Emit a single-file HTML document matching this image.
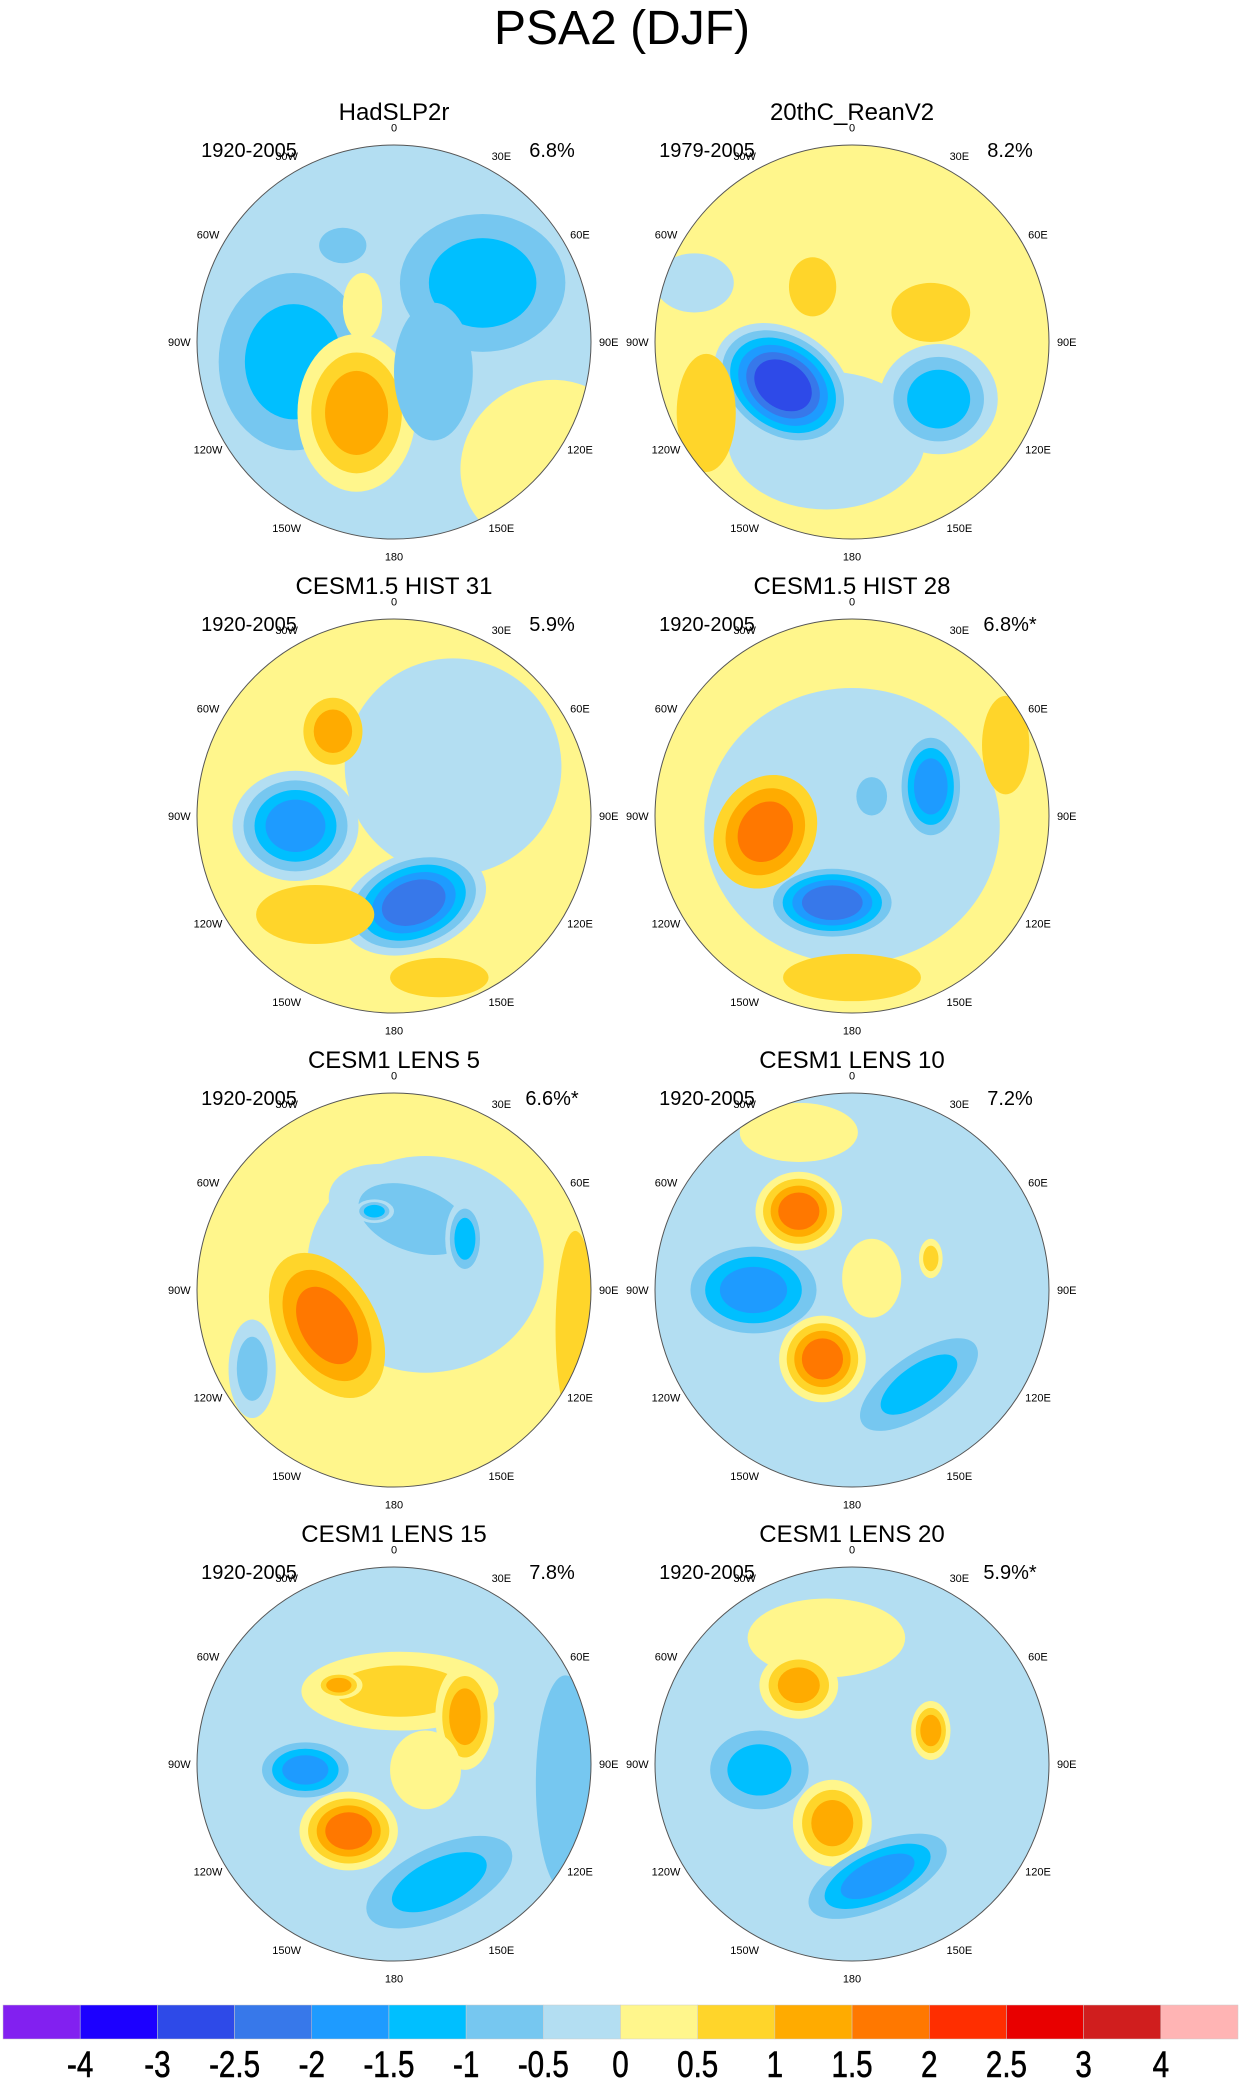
<!DOCTYPE html>
<html><head><meta charset="utf-8">
<style>
html,body{margin:0;padding:0;background:#fff;}
svg{display:block;font-family:"Liberation Sans",sans-serif;}
</style></head>
<body>
<svg id="fig" width="1244" height="2086" viewBox="0 0 1244 2086" xmlns="http://www.w3.org/2000/svg">
<text x="622" y="44" font-size="48" text-anchor="middle">PSA2 (DJF)</text>
</svg>
<script>
// Colour levels (index -> colour); negative and positive anomaly bins
const levelColors = {
  "-7":"#1c00ff","-6":"#2e4ae8","-5":"#3778ea","-4":"#1e9bff","-3":"#00bfff","-2":"#76c7f0","-1":"#b3def2",
  "1":"#fff68c","2":"#ffd52a","3":"#ffab00","4":"#ff7800","5":"#ff2e00","6":"#e80000","7":"#d01e1e"
};
const barColors = ["#8220f0","#1c00ff","#2e4ae8","#3778ea","#1e9bff","#00bfff","#76c7f0","#b3def2","#fff68c","#ffd52a","#ffab00","#ff7800","#ff2e00","#e80000","#d01e1e","#ffb4b4"];
const barLabels = ["-4","-3","-2.5","-2","-1.5","-1","-0.5","0","0.5","1","1.5","2","2.5","3","4"];
const panelTitles = ["HadSLP2r","20thC_ReanV2","CESM1.5 HIST 31","CESM1.5 HIST 28","CESM1 LENS 5","CESM1 LENS 10","CESM1 LENS 15","CESM1 LENS 20"];
const panelYears = ["1920-2005","1979-2005","1920-2005","1920-2005","1920-2005","1920-2005","1920-2005","1920-2005"];
const panelPct = ["6.8%","8.2%","5.9%","6.8%*","6.6%*","7.2%","7.8%","5.9%*"];
const panelBg = [-1,1,1,1,1,-1,-1,-1];
// blobs: [u, v, rx, ry, rotation, peakLevel] in units of map radius
const blobs0 = [[0.78,0.62,0.45,0.42,-30,1],[-0.51,0.1,0.38,0.45,0,-3],[0.45,-0.3,0.42,0.35,0,-3],[-0.19,0.36,0.3,0.4,0,3],[-0.26,-0.49,0.12,0.09,0,-2],[0.2,0.15,0.2,0.35,0,-2],[-0.16,-0.18,0.1,0.17,0,1]];
const blobs1 = [[-0.13,0.5,0.5,0.35,0,-1],[-0.8,-0.3,0.2,0.15,0,-1],[-0.35,0.22,0.38,0.28,35,-6],[0.44,0.29,0.3,0.28,0,-3],[-0.2,-0.28,0.12,0.15,0,2],[0.4,-0.15,0.2,0.15,0,2],[-0.74,0.36,0.15,0.3,0,2]];
const blobs2 = [[0.3,-0.25,0.55,0.55,0,-1],[-0.5,0.05,0.32,0.28,0,-4],[0.1,0.44,0.38,0.25,-20,-5],[-0.31,-0.43,0.15,0.17,0,3],[-0.4,0.5,0.3,0.15,0,2],[0.23,0.82,0.25,0.1,0,2]];
const blobs3 = [[0,0.05,0.75,0.7,0,-1],[0.4,-0.15,0.18,0.3,0,-4],[-0.1,0.44,0.35,0.2,0,-5],[-0.44,0.08,0.25,0.3,30,4],[0.78,-0.36,0.12,0.25,0,2],[0,0.82,0.35,0.12,0,2],[0.1,-0.1,0.12,0.15,0,-2]];
const blobs4 = [[0.16,-0.13,0.6,0.55,0,-1],[0.1,-0.36,0.45,0.25,20,-2],[-0.1,-0.4,0.1,0.06,0,-3],[0.36,-0.26,0.1,0.2,0,-3],[-0.34,0.18,0.25,0.4,-30,4],[0.92,0.2,0.1,0.5,0,2],[-0.72,0.4,0.12,0.25,0,-2]];
const blobs5 = [[-0.27,-0.8,0.3,0.15,0,1],[-0.27,-0.4,0.22,0.2,0,4],[-0.15,0.35,0.22,0.22,0,4],[-0.5,0,0.32,0.22,0,-4],[0.34,0.48,0.35,0.15,-35,-3],[0.1,-0.06,0.15,0.2,0,1],[0.4,-0.16,0.06,0.1,0,2]];
const blobs6 = [[0.03,-0.37,0.5,0.2,0,2],[0.36,-0.24,0.15,0.27,0,3],[-0.28,-0.4,0.12,0.07,0,3],[-0.23,0.34,0.25,0.2,0,4],[0.16,0.03,0.18,0.2,0,1],[-0.45,0.03,0.22,0.14,0,-4],[0.23,0.6,0.4,0.18,-25,-3],[0.87,0.1,0.15,0.55,0,-2]];
const blobs7 = [[-0.13,-0.64,0.4,0.2,0,1],[-0.27,-0.4,0.2,0.17,0,3],[-0.1,0.3,0.2,0.22,0,3],[0.4,-0.17,0.1,0.15,0,3],[-0.47,0.03,0.25,0.2,0,-3],[0.13,0.57,0.38,0.16,-25,-4]];
const allBlobs = [blobs0,blobs1,blobs2,blobs3,blobs4,blobs5,blobs6,blobs7];
const lonLabels = ["0","30E","60E","90E","120E","150E","180","150W","120W","90W","60W","30W"];

const NS="http://www.w3.org/2000/svg";
const svg=document.getElementById('fig');
function mk(tag,attrs,parent){const e=document.createElementNS(NS,tag);for(const k in attrs)e.setAttribute(k,attrs[k]);(parent||svg).appendChild(e);return e;}
const R=197, colX=[394,852], rowY=[342,816,1290,1764];

for(let p=0;p<8;p++){
  const cx=colX[p%2], cy=rowY[Math.floor(p/2)];
  const g=mk('g',{});
  
  
  const cp=mk('clipPath',{id:'clip'+p},g);
  mk('circle',{cx:cx,cy:cy,r:R},cp);
  const m=mk('g',{'clip-path':'url(#clip'+p+')'},g);
  mk('rect',{x:cx-R,y:cy-R,width:2*R,height:2*R,fill:levelColors[panelBg[p]]},m);
  for(const b of allBlobs[p]){
    const [u,v,rx,ry,rot,peak]=b;
    const sgn=Math.sign(peak);
    let levels=[];
    const start = (Math.sign(panelBg[p])===sgn)? Math.abs(panelBg[p])+1 : 1;
    for(let l=start;l<=Math.abs(peak);l++) levels.push(l);
    const n=levels.length;
    levels.forEach((l,i)=>{
      const s=1-i/(n)*0.7;
      const e=mk('ellipse',{cx:cx+u*R,cy:cy+v*R,rx:rx*R*s,ry:ry*R*s,fill:levelColors[sgn*l],
        transform:'rotate('+rot+' '+(cx+u*R)+' '+(cy+v*R)+')'},m);
      
      
    });
  }
  mk('circle',{cx:cx,cy:cy,r:R,fill:'none',stroke:'#555','stroke-width':1},g);
  lonLabels.forEach((t,i)=>{
    const a=i*30*Math.PI/180, rr=R*1.09;
    const tx=mk('text',{x:cx+rr*Math.sin(a),y:cy-rr*Math.cos(a)+4,'font-size':11,'text-anchor':'middle'},g);
    tx.textContent=t;
    
    
  });
  const tt=mk('text',{x:cx,y:cy-222,'font-size':24,'text-anchor':'middle'},g);
  tt.textContent=panelTitles[p];
  
  
  const ty=mk('text',{x:cx-145,y:cy-185,'font-size':20,'text-anchor':'middle'},g);
  ty.textContent=panelYears[p];
  
  
  const tp=mk('text',{x:cx+158,y:cy-185,'font-size':20,'text-anchor':'middle'},g);
  tp.textContent=panelPct[p];
  
  
}
// colorbar
const bx0=3,bx1=1238,bw=(bx1-bx0)/barColors.length;
const cb=mk('g',{});


barColors.forEach((c,i)=>{
  const r=mk('rect',{x:bx0+i*bw,y:2005,width:bw,height:34,fill:c,stroke:'#ccc','stroke-width':0.5},cb);
  
  
});
barLabels.forEach((t,i)=>{
  const x=bx0+(i+1)*bw;
  const tx=mk('text',{x:0,y:0,'font-size':37,'text-anchor':'middle',stroke:'#000','stroke-width':0.6,transform:'translate('+x+' 2077) scale(0.8 1)'},cb);
  tx.textContent=t;
  
  
});
</script>
</body></html>
